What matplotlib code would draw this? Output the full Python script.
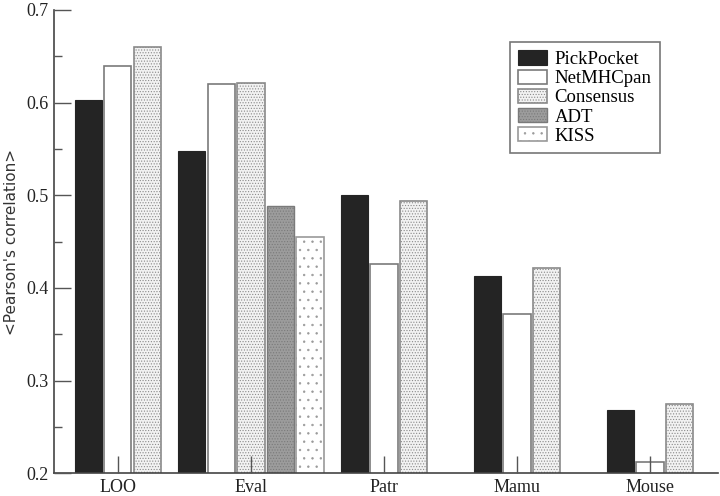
import numpy as np
import matplotlib
matplotlib.use("Agg")
import matplotlib.pyplot as plt
from matplotlib.ticker import MultipleLocator

# data
categories = ["LOO", "Eval", "Patr", "Mamu", "Mouse"]
pickpocket = [0.603, 0.548, 0.500, 0.413, 0.268]
netmhcpan = [0.639, 0.620, 0.426, 0.372, 0.212]
consensus = [0.660, 0.621, 0.494, 0.421, 0.275]
adt_eval = [0.488]
kiss_eval = [0.455]

plt.rcParams["hatch.linewidth"] = 0.5

fig = plt.figure(figsize=(7.2, 4.96), dpi=100)
ax = fig.add_axes([0.075, 0.046, 0.922, 0.934])

x = np.arange(1, len(categories) + 1)
pitch = 0.222
w = 0.205
# Eval has five bars, so its group is shifted one slot to the left
shift = np.array([-1, -2, -1, -1, -1])

serif = "Liberation Serif"

ax.bar(x + (shift + 0) * pitch, pickpocket, w, color="#242424",
       edgecolor="#242424", linewidth=0.8, label="PickPocket")
ax.bar(x + (shift + 1) * pitch, netmhcpan, w, color="white",
       edgecolor="#7a7a7a", linewidth=1.2, label="NetMHCpan")
ax.bar(x + (shift + 2) * pitch, consensus, w, color="#f2f2f2",
       edgecolor="#8a8a8a", hatch="......", linewidth=1.2, label="Consensus")
ax.bar([x[1] + 1 * pitch], adt_eval, w, color="#9c9c9c",
       edgecolor="#7a7a7a", hatch="......", linewidth=1.0, label="ADT")
ax.bar([x[1] + 2 * pitch], kiss_eval, w, color="white",
       edgecolor="#9a9a9a", hatch="..", linewidth=1.2, label="KISS")

ax.set_xlim(0.52, 5.51)
ax.set_ylim(0.2, 0.7)
ax.set_xticks(x)
ax.set_xticklabels(categories, fontfamily=serif, fontsize=13, color="#222222")
ax.yaxis.set_minor_locator(MultipleLocator(0.05))
ax.set_yticks([0.2, 0.3, 0.4, 0.5, 0.6, 0.7])
ax.set_yticklabels(["0.2", "0.3", "0.4", "0.5", "0.6", "0.7"],
                   fontfamily=serif, fontsize=13, color="#222222")
ax.tick_params(axis="both", which="major", direction="in", length=12,
               width=1.0, color="#555555", pad=4)
ax.tick_params(axis="y", which="minor", direction="in", length=6,
               width=1.0, color="#555555")
ax.set_axisbelow(False)

for s in ["top", "right"]:
    ax.spines[s].set_visible(False)
for s in ["left", "bottom"]:
    ax.spines[s].set_color("#444444")
    ax.spines[s].set_linewidth(1.2)

ax.set_ylabel("<Pearson's correlation>", fontsize=11, color="#333333",
              labelpad=5)

leg = ax.legend(loc="upper right", bbox_to_anchor=(0.913, 0.931),
                prop={"family": serif, "size": 13.5}, fancybox=False,
                framealpha=1, edgecolor="#777777", handlelength=1.55,
                handleheight=0.8, labelspacing=0.08, borderpad=0.45,
                handletextpad=0.4, borderaxespad=0)
leg.get_frame().set_linewidth(1.2)

fig.savefig("out.png", dpi=100)
